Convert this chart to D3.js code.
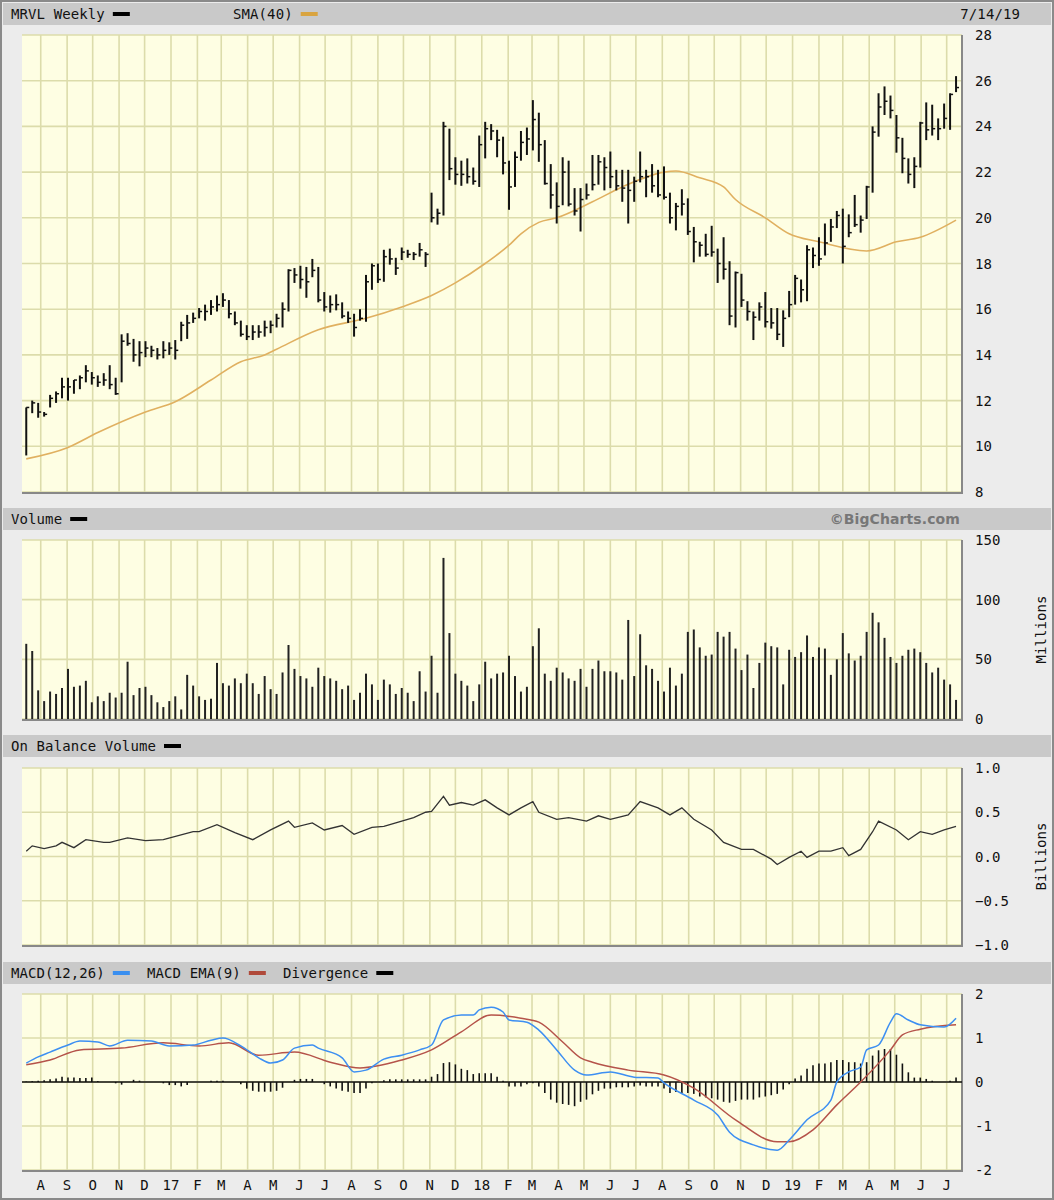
<!DOCTYPE html>
<html lang="en">
<head>
<meta charset="UTF-8">
<title>MRVL Weekly</title>
<script src="https://d3js.org/d3.v7.min.js"></script>
<style>
  body { margin: 0; background: #fff; }
  text { font-family: "DejaVu Sans Mono", monospace; font-size: 14px; letter-spacing: 0.1px; fill: #111; }
</style>
</head>
<body>
<div id="chart"></div>
<script>
const width = 1054, height = 1200;

// weekly bars, first week ending 2016-07-15
const high = [11.7,12.0,11.9,11.5,12.25,12.4,13.0,13.0,12.9,13.1,13.55,13.25,13.1,13.2,13.55,13.0,14.9,14.95,14.7,14.6,14.6,14.4,14.3,14.6,14.55,14.65,15.45,15.75,15.85,16.05,16.2,16.4,16.6,16.7,16.4,15.9,15.5,15.3,15.3,15.3,15.5,15.5,
  15.8,16.3,17.75,17.8,17.9,17.85,18.2,17.85,16.75,16.6,16.65,16.3,15.9,15.8,16.0,17.5,18.0,18.0,18.6,18.65,18.25,18.7,18.6,18.5,18.9,18.5,21.1,20.4,24.2,23.9,22.65,22.5,22.6,22.2,23.6,24.2,24.1,23.85,
  23.55,22.5,22.9,23.8,23.95,25.15,24.6,23.4,22.35,21.55,22.65,22.5,21.3,21.3,21.5,22.75,22.75,22.65,22.9,22.1,22.1,22.1,21.8,22.9,22.1,22.35,22.1,22.25,21.1,20.65,21.25,20.85,19.6,18.95,19.3,19.65,18.65,19.15,18.1,17.65,
  17.55,16.35,15.9,16.3,16.75,16.05,16.05,15.95,16.8,17.5,17.3,18.8,18.7,19.15,19.75,19.95,20.3,20.4,20.15,21.0,20.1,21.4,24.0,25.45,25.75,25.35,24.5,23.5,22.6,22.65,24.2,25.05,24.95,24.35,25.0,25.45,26.2];
const low = [9.6,11.45,11.25,11.3,11.7,11.9,12.1,12.0,12.3,12.5,12.8,12.7,12.6,12.65,12.5,12.25,12.8,14.4,13.7,13.5,13.9,13.9,13.8,13.85,14.0,13.8,14.6,14.7,15.4,15.6,15.5,15.75,15.9,16.1,15.6,15.3,14.8,14.65,14.65,14.75,14.8,14.95,
  15.2,15.2,15.9,17.15,16.9,16.5,17.4,16.3,15.9,15.85,15.95,15.6,15.4,14.8,15.5,15.45,16.85,17.15,17.2,17.95,17.5,18.15,18.25,18.15,18.3,17.85,19.8,19.7,20.1,21.65,21.45,21.4,21.5,21.45,21.35,22.6,23.4,22.65,
  21.9,20.35,21.35,22.5,22.75,22.95,22.45,21.45,20.4,19.75,20.55,20.5,20.1,19.4,20.8,21.2,21.45,21.2,21.3,21.2,20.7,19.75,20.7,21.55,20.9,21.1,20.9,20.8,19.75,19.45,20.1,19.25,18.05,18.3,18.3,18.3,17.15,17.3,15.3,15.2,
  16.1,15.5,14.65,15.5,15.2,15.15,14.65,14.35,15.65,16.2,16.3,16.35,17.8,17.9,18.35,18.95,19.55,18.0,19.15,19.6,19.35,19.95,21.1,23.55,24.5,24.35,22.85,21.95,21.5,21.3,22.2,23.4,23.6,23.4,23.9,23.85,25.5];
const close = [11.7,11.9,11.5,11.4,12.1,12.3,12.6,12.6,12.9,13.0,13.3,13.0,12.8,12.9,12.7,12.3,14.6,14.5,14.0,14.1,14.3,14.2,14.0,14.2,14.3,14.2,15.3,15.4,15.6,15.9,15.9,16.1,16.2,16.4,15.8,15.4,14.9,14.8,15.0,15.0,15.2,15.3,
  15.6,16.0,17.7,17.5,17.3,17.2,17.7,16.4,16.1,16.2,16.2,15.7,15.6,15.2,15.6,17.2,17.9,17.3,18.3,18.2,17.8,18.5,18.4,18.4,18.6,18.4,20.0,20.2,24.0,22.15,21.9,21.9,21.8,21.6,23.2,23.9,23.8,23.4,
  22.4,21.35,22.65,23.3,23.45,24.3,23.2,21.5,21.0,20.5,22.0,20.6,20.3,20.8,21.0,21.45,22.45,22.2,21.8,21.4,21.3,21.2,21.6,21.8,21.8,21.4,21.0,20.9,20.0,20.5,20.6,19.4,18.95,18.8,18.4,18.5,18.0,17.75,15.7,17.6,
  16.4,15.9,15.65,16.1,15.45,15.4,14.9,15.6,16.2,17.35,16.85,18.6,18.35,18.2,18.9,19.6,20.1,18.75,19.35,19.7,19.9,21.35,23.75,24.85,25.1,24.7,23.5,22.6,21.9,22.25,24.15,23.85,23.9,23.9,24.35,25.4,25.7];

// SMA(40) read at selected weeks
const smaWeek  = [0,7,12,20,25,31,36,40,42,49,57,63,68,72,77,81,83,86,89,95,100,107,109,113,117,119,124,128,133,141,146,150,156];
const smaValue = [9.45,9.95,10.6,11.5,11.95,12.9,13.7,14.0,14.25,15.1,15.6,16.1,16.6,17.15,18.0,18.8,19.3,19.8,20.0,20.7,21.35,22.0,22.05,21.75,21.35,20.8,20.0,19.3,18.95,18.55,18.95,19.15,19.9];

// volume, millions
const volume = [63,57,24,15,23,21,26,42,27,28,32,14,19,15,22,18,22,48,20,26,27,20,14,10,15,19,8,37,28,19,16,17,47,30,28,34,30,38,30,21,36,25,21,39,62,42,36,34,27,43,36,34,32,25,
  28,16,22,38,29,16,33,29,21,26,22,15,40,23,53,22,135,72,38,32,28,15,29,48,34,38,39,53,36,23,27,61,76,38,32,43,39,34,32,42,27,42,49,40,40,39,33,83,36,71,45,42,32,23,43,
  28,38,73,75,60,53,54,73,69,73,59,41,54,26,47,64,61,60,29,58,52,56,70,52,60,59,37,50,72,55,49,53,73,89,81,68,52,47,53,58,59,56,47,39,43,33,29,16];

// On Balance Volume, billions
const obvWeek  = [0,1,3,5,6,8,10,13,14,17,20,23,28,29,32,35,38,41,44,45,48,50,53,55,58,60,63,65,67,68,70,71,73,75,77,79,81,83,85,86,89,91,94,96,98,101,103,106,108,110,112,115,117,120,122,125,126,128,130,131,133,135,137,138,140,142,143,146,148,150,152,154,156];
const obvValue = [0.06,0.12,0.09,0.12,0.16,0.10,0.19,0.16,0.16,0.21,0.18,0.19,0.28,0.28,0.36,0.27,0.19,0.30,0.40,0.33,0.38,0.30,0.35,0.25,0.33,0.34,0.40,0.44,0.50,0.51,0.68,0.58,0.61,0.58,0.64,0.55,0.47,0.55,0.62,0.50,0.42,0.44,0.40,0.46,0.42,0.47,0.62,0.55,0.47,0.55,0.42,0.30,0.16,0.08,0.08,-0.03,-0.09,-0.01,0.06,-0.01,0.06,0.06,0.10,0.01,0.08,0.28,0.40,0.30,0.19,0.28,0.25,0.30,0.34];

// MACD(12,26)
const macdWeek  = [0,2,4,7,9,12,14,17,21,24,28,31,33,36,39,41,43,45,48,49,53,55,57,60,63,66,68,70,73,75,76,78,80,81,84,86,89,92,94,98,102,106,107,112,116,118,122,126,128,131,135,136,138,140,141,143,145,146,148,150,154,156];
const macdValue = [0.43,0.57,0.68,0.84,0.93,0.91,0.82,0.95,0.93,0.82,0.84,0.95,1.0,0.82,0.55,0.43,0.5,0.77,0.84,0.77,0.55,0.23,0.27,0.52,0.61,0.73,0.84,1.41,1.52,1.52,1.64,1.7,1.59,1.41,1.36,1.18,0.73,0.27,0.16,0.23,0.11,0.09,-0.02,-0.41,-0.75,-1.14,-1.43,-1.55,-1.32,-0.86,-0.41,0,0.23,0.34,0.73,0.84,1.36,1.55,1.41,1.3,1.25,1.45];
// MACD EMA(9)
const emaWeek  = [0,4,9,16,23,29,34,39,45,51,56,63,68,73,78,83,86,90,93,95,101,107,112,119,126,128,132,136,140,145,147,150,156];
const emaValue = [0.39,0.5,0.73,0.77,0.89,0.82,0.89,0.61,0.68,0.45,0.32,0.5,0.73,1.14,1.52,1.45,1.36,0.91,0.55,0.45,0.27,0.16,-0.14,-0.86,-1.36,-1.36,-1.09,-0.52,0,0.73,1.07,1.2,1.3];
// Divergence
const divergence = [0.01,0.02,0.03,0.04,0.06,0.08,0.12,0.1,0.1,0.09,0.09,0.1,0.02,0,0,-0.03,-0.06,0,0.05,0.03,0,0,0,-0.03,-0.07,-0.07,-0.1,-0.07,0,0,0,0.03,0.03,0.03,0,0,-0.05,-0.15,-0.2,-0.22,-0.22,-0.22,-0.2,-0.13,0,0.05,0.07,0.07,0.07,0,-0.05,-0.1,-0.15,-0.2,-0.22,-0.25,-0.25,-0.15,-0.03,0,
  0.04,0.06,0.06,0.06,0.06,0.06,0.06,0.06,0.12,0.18,0.43,0.45,0.4,0.3,0.27,0.18,0.2,0.2,0.2,0.12,0.03,-0.1,-0.1,-0.1,-0.05,
  -0.03,-0.1,-0.25,-0.4,-0.47,-0.5,-0.52,-0.55,-0.45,-0.4,-0.28,-0.2,-0.15,-0.15,-0.12,-0.12,-0.12,-0.1,-0.08,-0.1,-0.1,-0.1,-0.15,-0.25,-0.23,-0.25,-0.25,-0.27,-0.33,-0.35,-0.37,-0.4,-0.45,-0.47,-0.43,-0.4,-0.4,-0.4,-0.35,-0.33,-0.3,-0.27,-0.17,-0.05,
  0.08,0.15,0.3,0.38,0.42,0.42,0.45,0.5,0.5,0.45,0.45,0.42,0.45,0.6,0.72,0.75,0.75,0.62,0.42,0.22,0.1,0.1,0.07,0.03,0,0,0.03,0.1];

const priceTicks = [8,10,12,14,16,18,20,22,24,26,28];
const volTicks = [0,50,100,150];
const obvTicks = [-1,-0.5,0,0.5,1];
const macdTicks = [-2,-1,0,1,2];

const firstWeek = new Date(2016, 6, 15);
const weekDate = i => d3.timeDay.offset(firstWeek, 7 * i);

const left = 22, right = 962;
const x = d3.scaleTime().domain([new Date(2016, 6, 10), new Date(2019, 6, 19)]).range([left, right]);
const months = d3.timeMonth.range(new Date(2016, 7, 1), new Date(2019, 6, 2));

const svg = d3.select("#chart").append("svg").attr("width", width).attr("height", height);
svg.append("rect").attr("width", width).attr("height", height).attr("fill", "#ececec");
svg.append("rect").attr("x", 1).attr("y", 1).attr("width", width - 2).attr("height", height - 2)
  .attr("fill", "none").attr("stroke", "#8a8a8a").attr("stroke-width", 2);

const panels = [
  { head: 3, top: 35, bottom: 492 },
  { head: 508, top: 540, bottom: 719 },
  { head: 735, top: 768, bottom: 945 },
  { head: 962, top: 994, bottom: 1170 }
];

function panel(p, y, ticks, fmt) {
  svg.append("rect").attr("x", 3).attr("y", p.head).attr("width", width - 6).attr("height", 22).attr("fill", "#c9c9c9");
  svg.append("rect").attr("x", left).attr("y", p.top).attr("width", right - left).attr("height", p.bottom - p.top)
    .attr("fill", "#fefee3");
  const g = svg.append("g");
  g.selectAll(".v").data(months).join("line")
    .attr("x1", d => x(d)).attr("x2", d => x(d)).attr("y1", p.top).attr("y2", p.bottom)
    .attr("stroke", "#dcdcab").attr("stroke-width", 1.6);
  g.selectAll(".h").data(ticks).join("line")
    .attr("x1", left).attr("x2", right).attr("y1", d => y(d)).attr("y2", d => y(d))
    .attr("stroke", "#dcdcab").attr("stroke-width", 1.6);
  svg.append("line").attr("x1", right).attr("x2", right).attr("y1", p.top).attr("y2", p.bottom + 2)
    .attr("stroke", "#888").attr("stroke-width", 2);
  svg.append("line").attr("x1", left).attr("x2", right).attr("y1", p.bottom + 1).attr("y2", p.bottom + 1)
    .attr("stroke", "#888").attr("stroke-width", 2);
  svg.selectAll(null).data(ticks).join("text")
    .attr("x", 975).attr("y", d => y(d) + 5).text(fmt);
}

function legend(yHead, items) {
  items.forEach(it => {
    const t = svg.append("text").attr("x", it.x).attr("y", yHead + 16).text(it.label);
    const w = t.node().getComputedTextLength();
    if (it.color) svg.append("rect").attr("x", it.x + w + 8).attr("y", yHead + 9).attr("width", 17).attr("height", 4).attr("fill", it.color);
  });
}

// ---- price panel
const yP = d3.scaleLinear().domain([8, 28]).range([panels[0].bottom, panels[0].top]);
panel(panels[0], yP, priceTicks, d => d);
legend(panels[0].head, [{ x: 11, label: "MRVL Weekly", color: "#000" }, { x: 233, label: "SMA(40)", color: "#d9a440" }]);
svg.append("text").attr("x", 1020).attr("y", panels[0].head + 16).attr("text-anchor", "end").text("7/14/19");

svg.append("path").datum(smaWeek)
  .attr("fill", "none").attr("stroke", "#e0b060").attr("stroke-width", 1.6)
  .attr("d", d3.line().curve(d3.curveMonotoneX).x(i => x(weekDate(i))).y((i, k) => yP(smaValue[k])));

const bars = svg.append("g").selectAll("g").data(close).join("g");
bars.append("line")
  .attr("x1", (d, i) => x(weekDate(i))).attr("x2", (d, i) => x(weekDate(i)))
  .attr("y1", (d, i) => yP(high[i])).attr("y2", (d, i) => yP(low[i]))
  .attr("stroke", "#111").attr("stroke-width", 2);
bars.append("line")
  .attr("x1", (d, i) => x(weekDate(i))).attr("x2", (d, i) => x(weekDate(i)) + 3)
  .attr("y1", d => yP(d)).attr("y2", d => yP(d))
  .attr("stroke", "#111").attr("stroke-width", 1.5);

// ---- volume panel
const yV = d3.scaleLinear().domain([0, 150]).range([panels[1].bottom, panels[1].top]);
panel(panels[1], yV, volTicks, d => d);
legend(panels[1].head, [{ x: 11, label: "Volume", color: "#000" }]);
svg.append("text").attr("x", 960).attr("y", panels[1].head + 16).attr("text-anchor", "end")
  .style("font-family", "'DejaVu Sans', sans-serif").style("font-weight", "bold").style("fill", "#777").text("©BigCharts.com");
svg.append("g").selectAll("line").data(volume).join("line")
  .attr("x1", (d, i) => x(weekDate(i))).attr("x2", (d, i) => x(weekDate(i)))
  .attr("y1", yV(0)).attr("y2", d => yV(d)).attr("stroke", "#222").attr("stroke-width", 2);
svg.append("text").attr("transform", `translate(1046,${(panels[1].top + panels[1].bottom) / 2}) rotate(-90)`)
  .attr("text-anchor", "middle").text("Millions");

// ---- OBV panel
const yO = d3.scaleLinear().domain([-1, 1]).range([panels[2].bottom, panels[2].top]);
panel(panels[2], yO, obvTicks, d3.format(".1f"));
legend(panels[2].head, [{ x: 11, label: "On Balance Volume", color: "#000" }]);
svg.append("path").datum(obvWeek).attr("fill", "none").attr("stroke", "#333").attr("stroke-width", 1.3)
  .attr("d", d3.line().x(i => x(weekDate(i))).y((i, k) => yO(obvValue[k])));
svg.append("text").attr("transform", `translate(1046,${(panels[2].top + panels[2].bottom) / 2}) rotate(-90)`)
  .attr("text-anchor", "middle").text("Billions");

// ---- MACD panel
const yM = d3.scaleLinear().domain([-2, 2]).range([panels[3].bottom, panels[3].top]);
panel(panels[3], yM, macdTicks, d => d);
legend(panels[3].head, [
  { x: 11, label: "MACD(12,26)", color: "#3a8ff0" },
  { x: 147, label: "MACD EMA(9)", color: "#b04a3a" },
  { x: 283, label: "Divergence", color: "#000" }
]);
svg.append("line").attr("x1", left).attr("x2", right).attr("y1", yM(0)).attr("y2", yM(0)).attr("stroke", "#111").attr("stroke-width", 1.5);
svg.append("g").selectAll("line").data(divergence).join("line")
  .attr("x1", (d, i) => x(weekDate(i))).attr("x2", (d, i) => x(weekDate(i)))
  .attr("y1", yM(0)).attr("y2", d => yM(d)).attr("stroke", "#111").attr("stroke-width", 1.6);
svg.append("path").datum(emaWeek).attr("fill", "none").attr("stroke", "#b5534a").attr("stroke-width", 1.5)
  .attr("d", d3.line().curve(d3.curveMonotoneX).x(i => x(weekDate(i))).y((i, k) => yM(emaValue[k])));
svg.append("path").datum(macdWeek).attr("fill", "none").attr("stroke", "#3d8ff2").attr("stroke-width", 1.5)
  .attr("d", d3.line().curve(d3.curveMonotoneX).x(i => x(weekDate(i))).y((i, k) => yM(macdValue[k])));

// ---- month labels
svg.append("g").selectAll("text").data(months).join("text")
  .attr("x", d => x(d)).attr("y", 1190).attr("text-anchor", "middle")
  .text(d => d.getMonth() === 0 ? d3.timeFormat("%y")(d) : d3.timeFormat("%b")(d)[0]);
</script>
</body>
</html>
